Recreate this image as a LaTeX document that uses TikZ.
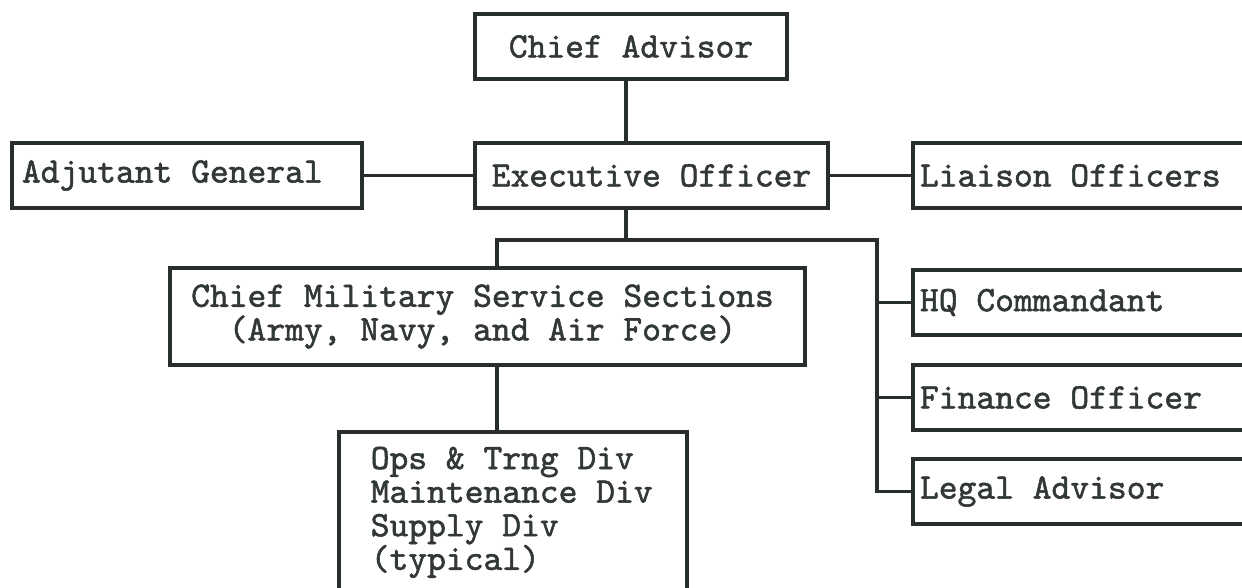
\documentclass[tikz,border=0pt]{standalone}
\usepackage{fontspec}
\newfontfamily\tw{lmmono10-regular}[Extension=.otf, FakeBold=1.5]
\definecolor{ink}{RGB}{40,46,44}
\definecolor{txt}{RGB}{50,56,54}
\begin{document}
\begin{tikzpicture}[x=1pt,y=-1pt,
  box/.style={draw=ink, line width=3.5pt, inner sep=0pt, minimum height=65pt,
    text=txt, font=\tw\fontsize{35.8}{33.6}\selectfont},
  leftbox/.style={box, align=flush left, inner xsep=7pt, text width=343pt},
  conn/.style={draw=ink, line width=3.5pt}
]
\useasboundingbox (0,0) rectangle (1242,587);
\fill[white] (0,0) rectangle (1242,587);
\clip (0,0) rectangle (1242,587);

\node[box, minimum width=312pt] (ca) at (631,46.5) {Chief Advisor};
\node[box, minimum width=353pt] (ex) at (651.5,175.5) {Executive Officer};
\node[box, align=flush left, inner xsep=10pt, text width=330pt] (ag) at (187,175.5) {Adjutant General};
\node[leftbox] (lo) at (1091.5,175.5) {Liaison Officers};
\node[box, align=flush center, minimum width=635pt, minimum height=97pt] (cm) at (487.5,316.5)
  {Chief Military Service Sections\hspace{10pt}\mbox{}\\(Army, Navy, and Air Force)\hspace{10pt}\mbox{}};
\node[leftbox] (hq) at (1091.5,302.5) {HQ Commandant};
\node[leftbox] (fo) at (1091.5,397.5) {Finance Officer};
\node[leftbox] (la) at (1091.5,491.5) {Legal Advisor};
\node[box, anchor=north west, align=flush left, inner xsep=32pt, inner ysep=15pt, text width=284pt,
  minimum height=0pt] (ops) at (337,430)
  {Ops \& Trng Div\\Maintenance Div\\Supply Div\\(typical)\rule[-20pt]{0pt}{20pt}};

\coordinate (tap) at (626,0);
\coordinate (busL) at (497,240);
\coordinate (busR) at (877,240);

\path[conn] (ca.south -| tap) -- (ex.north -| tap);
\path[conn] (ex.west) -- (ag.east);
\path[conn] (ex.east) -- (lo.west);
\path[conn] (ex.south -| tap) -- (tap |- busL);
\path[conn] (cm.north -| busL) -- (busL) -- (busR) -- (busR |- la.west) -- (la.west);
\path[conn] (busR |- hq.west) -- (hq.west);
\path[conn] (busR |- fo.west) -- (fo.west);
\path[conn] (cm.south -| busL) -- (ops.north -| busL);
\end{tikzpicture}
\end{document}
